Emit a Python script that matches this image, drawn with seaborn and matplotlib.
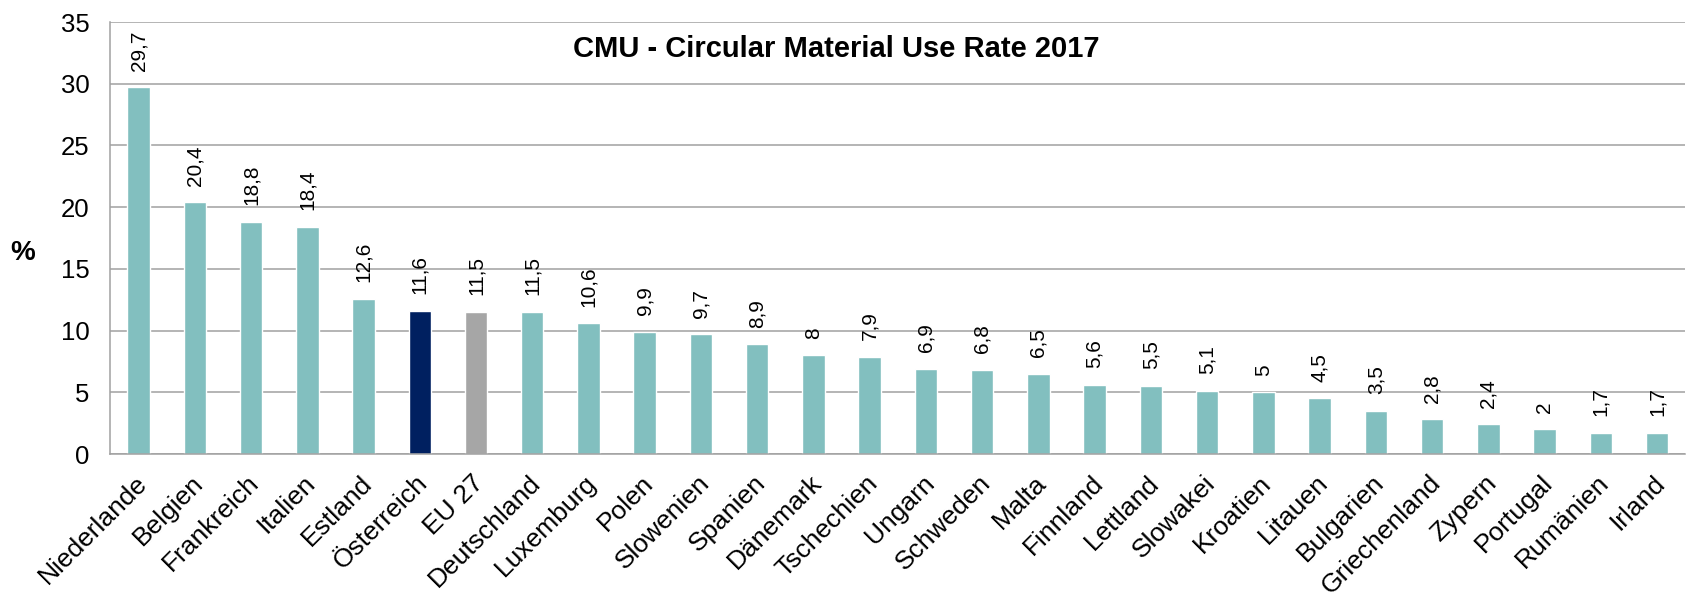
import matplotlib
matplotlib.use("Agg")
import matplotlib.pyplot as plt
import matplotlib.transforms as mtrans
import seaborn as sns
import pandas as pd
import numpy as np

countries = ["Niederlande", "Belgien", "Frankreich", "Italien", "Estland", "Österreich",
             "EU 27", "Deutschland", "Luxemburg", "Polen", "Slowenien", "Spanien",
             "Dänemark", "Tschechien", "Ungarn", "Schweden", "Malta", "Finnland",
             "Lettland", "Slowakei", "Kroatien", "Litauen", "Bulgarien", "Griechenland",
             "Zypern", "Portugal", "Rumänien", "Irland"]
values = [29.7, 20.4, 18.8, 18.4, 12.6, 11.6, 11.5, 11.5, 10.6, 9.9, 9.7, 8.9,
          8.0, 7.9, 6.9, 6.8, 6.5, 5.6, 5.5, 5.1, 5.0, 4.5, 3.5, 2.8, 2.4, 2.0, 1.7, 1.7]
labels = ["29,7", "20,4", "18,8", "18,4", "12,6", "11,6", "11,5", "11,5", "10,6", "9,9",
          "9,7", "8,9", "8", "7,9", "6,9", "6,8", "6,5", "5,6", "5,5", "5,1", "5", "4,5",
          "3,5", "2,8", "2,4", "2", "1,7", "1,7"]

teal = "#82BFBF"
colors = {c: teal for c in countries}
colors["Österreich"] = "#002060"
colors["EU 27"] = "#A6A6A6"

df = pd.DataFrame({"land": countries, "wert": values})

sns.set_style("white")
plt.rcParams["font.family"] = ["Liberation Sans", "DejaVu Sans"]
plt.rcParams["text.color"] = "black"
plt.rcParams["xtick.labelcolor"] = "black"
plt.rcParams["ytick.labelcolor"] = "black"
plt.rcParams["axes.labelcolor"] = "black"

fig = plt.figure(figsize=(16.86, 5.97), dpi=100)
ax = fig.add_axes([0.0655, 0.2395, 0.934, 0.7235])

sns.barplot(data=df, x="land", y="wert", hue="land", palette=colors,
            width=0.4, legend=False, ax=ax, saturation=1)

for i, (v, lab) in enumerate(zip(values, labels)):
    ax.annotate(lab, (i, v), xytext=(0, 12), textcoords="offset points",
                rotation=90, ha="center", va="bottom", fontsize=15)

grid_c = "#A0A0A0"
ax.set_ylim(0, 35)
ax.set_yticks(range(0, 36, 5))
ax.set_xlim(-0.5, len(countries) - 0.5)
ax.yaxis.grid(True, color=grid_c, linewidth=1.1)
ax.set_axisbelow(True)
for s in ["top", "right"]:
    ax.spines[s].set_visible(False)
for s in ["left", "bottom"]:
    ax.spines[s].set_color(grid_c)
    ax.spines[s].set_linewidth(1.1)

ax.set_xticks(np.arange(-0.5, len(countries), 1), minor=True)
ax.tick_params(axis="x", which="minor", length=6, color=grid_c, width=1.1, direction="out")
ax.tick_params(axis="x", which="major", length=0, pad=12)
ax.tick_params(axis="y", length=6, color=grid_c, width=1.1, pad=9, labelsize=18.5)
ax.set_xticks(range(len(countries)))
ax.set_xticklabels(countries, rotation=45, ha="right", rotation_mode="anchor", fontsize=19)
shift = mtrans.ScaledTranslation(-4 / 100, 0, fig.dpi_scale_trans)
for t in ax.get_xticklabels():
    t.set_transform(t.get_transform() + shift)

ax.set_xlabel("")
ax.set_ylabel("%", rotation=0, fontsize=20, fontweight="bold", va="center", ha="center")
ax.yaxis.set_label_coords(-0.056, 0.465)

ax.text(0.4607, 0.9375, "CMU - Circular Material Use Rate 2017", transform=ax.transAxes,
        ha="center", va="center", fontsize=21, fontweight="bold")

fig.savefig("out.png", dpi=100)
